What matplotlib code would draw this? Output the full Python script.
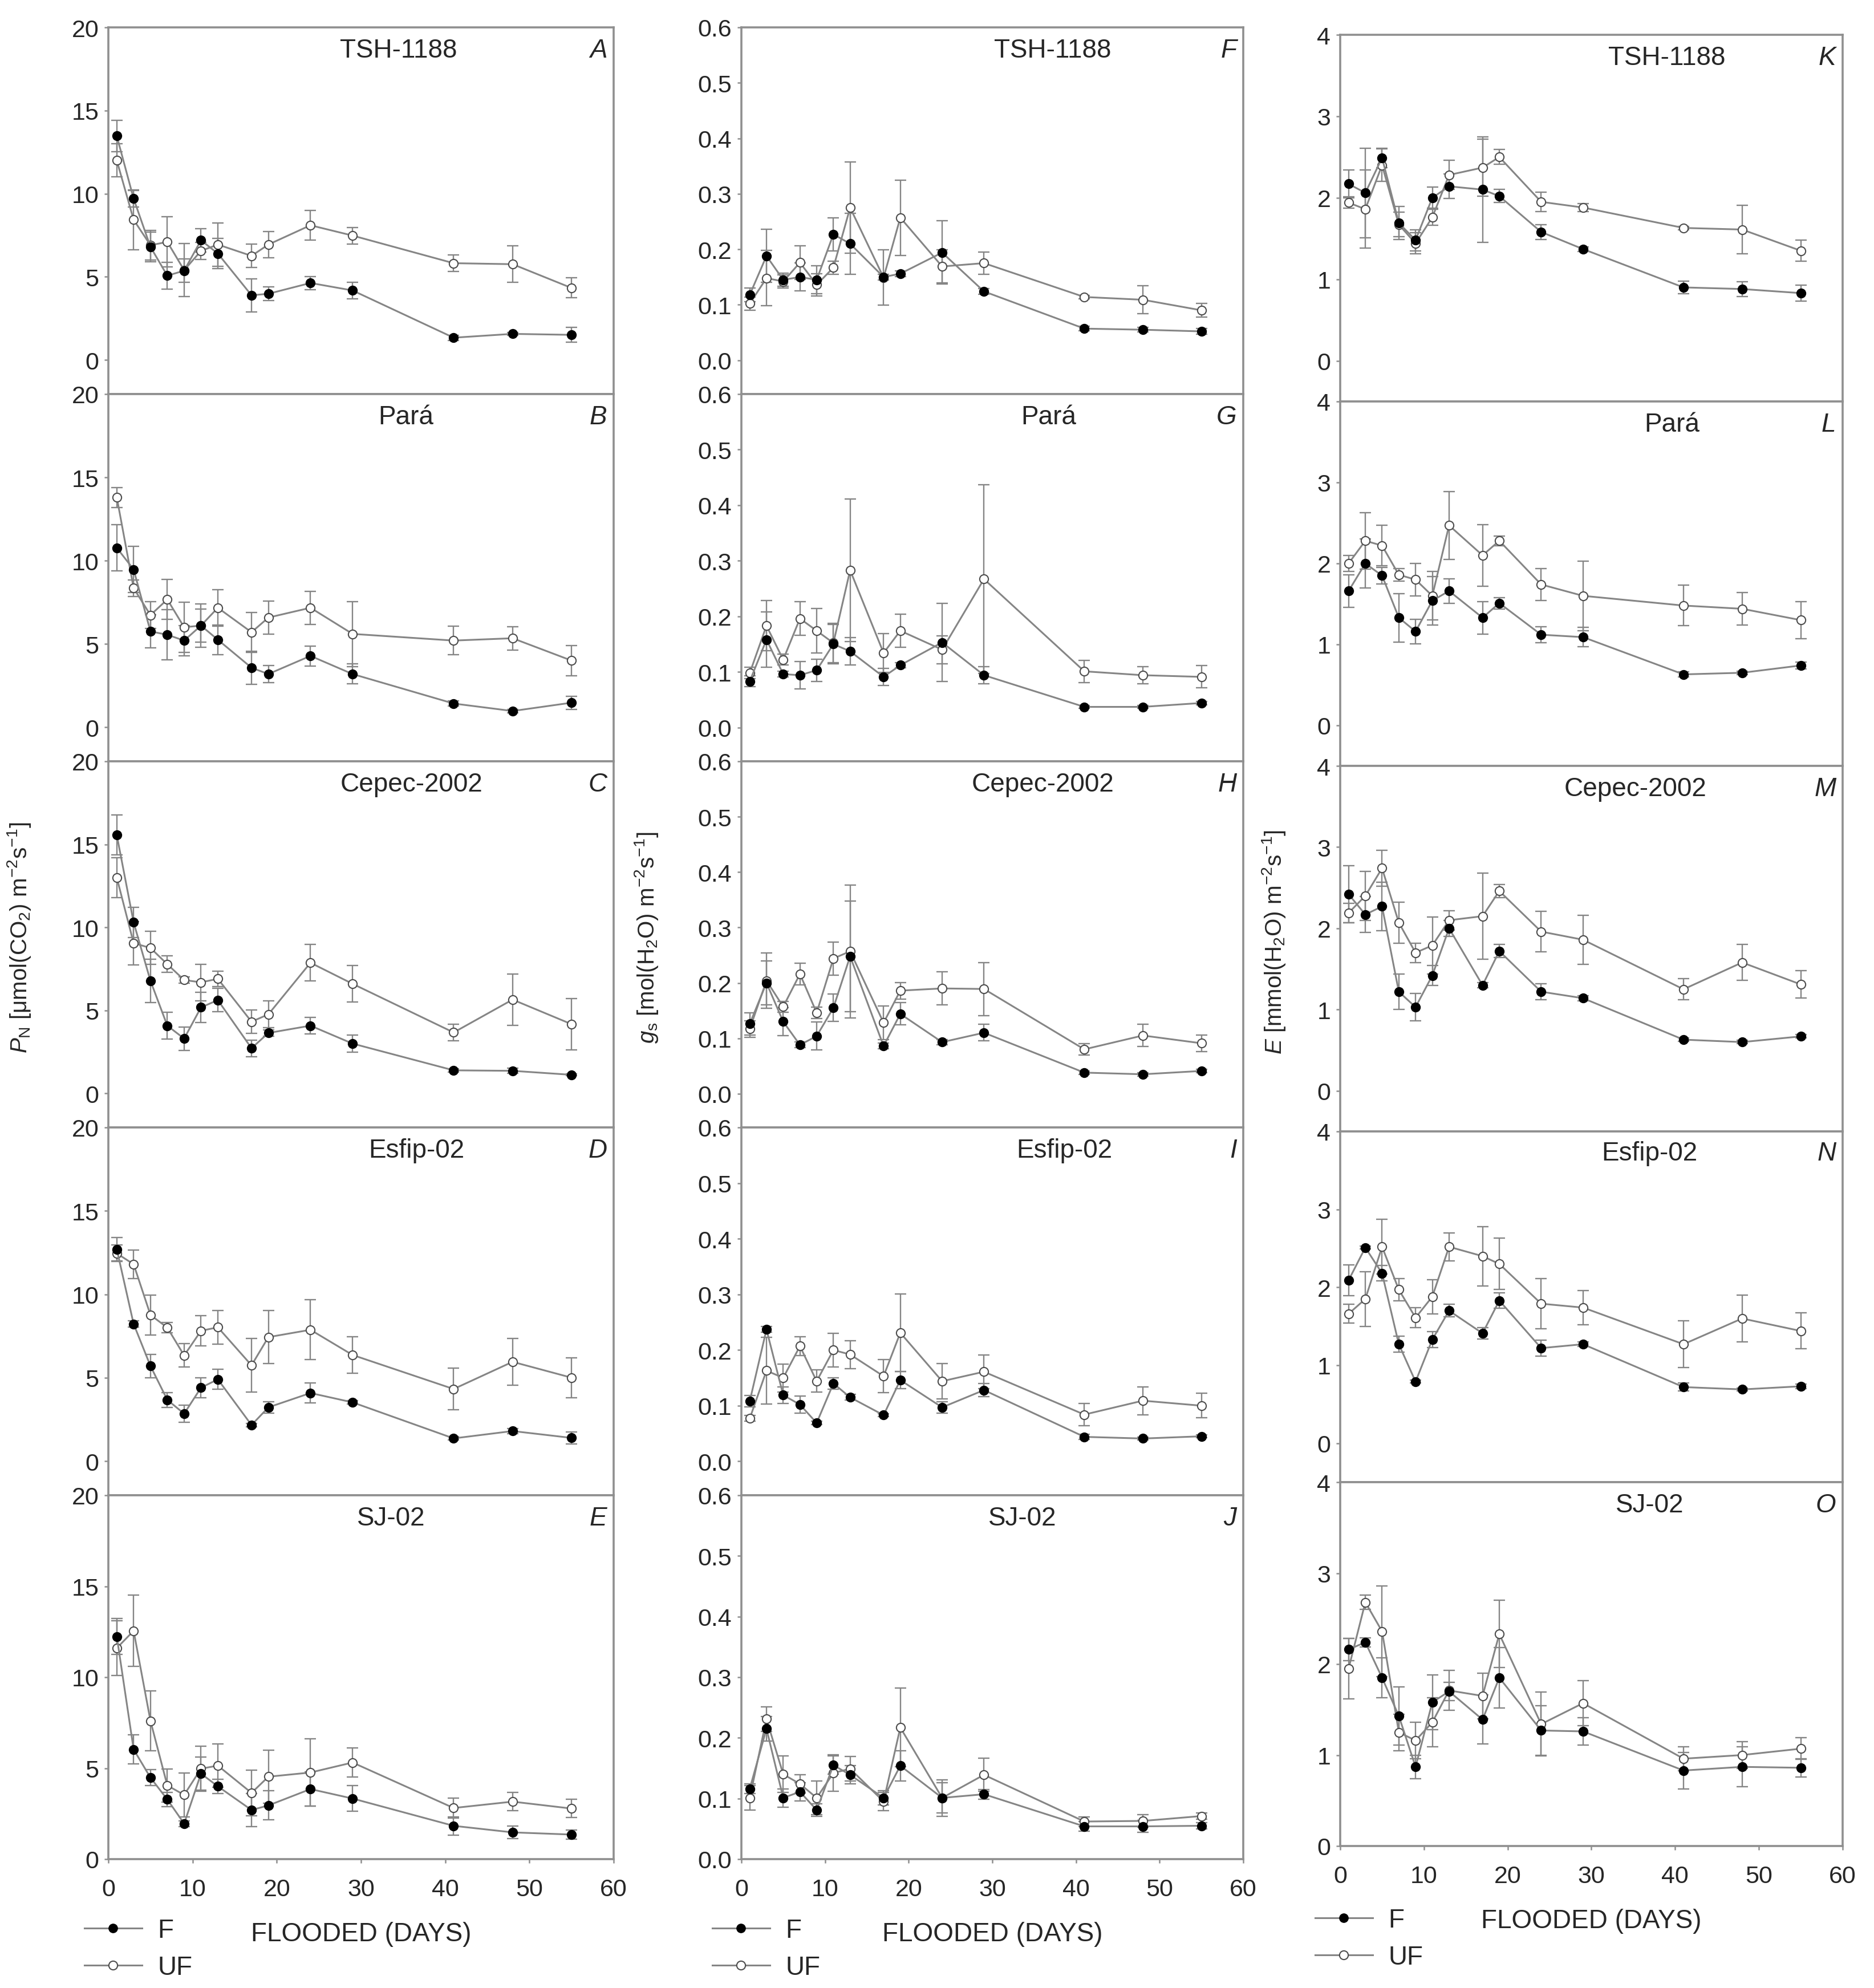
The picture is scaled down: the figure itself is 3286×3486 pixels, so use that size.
"""Gas exchange of five cacao cultivars under flooding (P_N, g_s, E).

Output: out.png
"""
import matplotlib
matplotlib.use("Agg")
import matplotlib.pyplot as plt
from matplotlib.lines import Line2D
from matplotlib.ticker import FormatStrFormatter

plt.rcParams["font.family"] = ["Liberation Sans", "DejaVu Sans"]
plt.rcParams["mathtext.fontset"] = "custom"
plt.rcParams["mathtext.rm"] = "Liberation Sans"
plt.rcParams["mathtext.it"] = "Liberation Sans:italic"

# ── data ─────────────────────────────────────────────────────────────────────
DAYS = [1, 3, 5, 7, 9, 11, 13, 17, 19, 24, 29, 41, 48, 55]
CULTIVARS = ["TSH-1188", "Pará", "Cepec-2002", "Esfip-02", "SJ-02"]

# net photosynthetic rate P_N
PN_TSH_F = [13.47, 9.7, 6.8, 5.07, 5.37, 7.2, 6.4, 3.89, 3.98, 4.63, 4.18, 1.34, 1.57, 1.51]
PN_TSH_F_SE = [0.95, 0.5, 0.9, 0.8, 0.7, 0.7, 0.9, 1.0, 0.4, 0.4, 0.5, 0.15, 0.1, 0.45]
PN_TSH_UF = [12.0, 8.43, 6.9, 7.1, 5.4, 6.56, 6.94, 6.26, 6.94, 8.1, 7.48, 5.82, 5.76, 4.33]
PN_TSH_UF_SE = [1.0, 1.8, 0.9, 1.5, 1.6, 0.5, 1.3, 0.7, 0.8, 0.9, 0.5, 0.5, 1.1, 0.6]

PN_PARA_F = [10.77, 9.47, 5.75, 5.55, 5.2, 6.1, 5.25, 3.57, 3.19, 4.28, 3.19, 1.42, 0.97, 1.47]
PN_PARA_F_SE = [1.4, 1.4, 1.0, 1.5, 0.9, 1.3, 0.9, 1.0, 0.5, 0.6, 0.6, 0.15, 0.1, 0.4]
PN_PARA_UF = [13.8, 8.35, 6.73, 7.67, 6.0, 6.1, 7.17, 5.7, 6.58, 7.17, 5.6, 5.2, 5.34, 4.0]
PN_PARA_UF_SE = [0.6, 0.5, 0.8, 1.2, 1.5, 1.0, 1.1, 1.2, 1.0, 1.0, 1.95, 0.85, 0.7, 0.9]

PN_CEPEC_F = [15.56, 10.3, 6.78, 4.08, 3.3, 5.18, 5.62, 2.72, 3.64, 4.08, 3.0, 1.39, 1.36, 1.12]
PN_CEPEC_F_SE = [1.2, 0.9, 1.3, 0.8, 0.7, 0.9, 0.7, 0.5, 0.2, 0.5, 0.5, 0.1, 0.15, 0.05]
PN_CEPEC_UF = [13.0, 9.05, 8.76, 7.78, 6.83, 6.69, 6.9, 4.32, 4.76, 7.87, 6.6, 3.67, 5.65, 4.17]
PN_CEPEC_UF_SE = [1.2, 1.3, 1.0, 0.5, 0.2, 1.1, 0.45, 0.7, 0.8, 1.1, 1.1, 0.5, 1.55, 1.55]

PN_ESFIP_F = [12.7, 8.22, 5.7, 3.67, 2.84, 4.4, 4.9, 2.16, 3.22, 4.08, 3.52, 1.36, 1.8, 1.39]
PN_ESFIP_F_SE = [0.7, 0.2, 0.7, 0.45, 0.5, 0.6, 0.6, 0.1, 0.35, 0.6, 0.1, 0.1, 0.15, 0.35]
PN_ESFIP_UF = [12.45, 11.8, 8.76, 8.0, 6.33, 7.81, 8.02, 5.74, 7.43, 7.87, 6.36, 4.32, 5.95, 5.0]
PN_ESFIP_UF_SE = [0.5, 0.85, 1.2, 0.3, 0.7, 0.9, 1.0, 1.6, 1.6, 1.8, 1.1, 1.25, 1.4, 1.2]

PN_SJ_F = [12.24, 6.03, 4.48, 3.28, 1.95, 4.7, 4.0, 2.7, 2.95, 3.85, 3.33, 1.83, 1.47, 1.35]
PN_SJ_F_SE = [1.0, 0.8, 0.45, 0.4, 0.15, 0.9, 0.4, 0.9, 0.8, 0.95, 0.7, 0.5, 0.35, 0.25]
PN_SJ_UF = [11.6, 12.55, 7.6, 4.05, 3.53, 4.97, 5.14, 3.64, 4.53, 4.76, 5.31, 2.81, 3.16, 2.78]
PN_SJ_UF_SE = [1.5, 1.95, 1.65, 0.9, 1.2, 1.25, 1.2, 1.25, 1.45, 1.85, 0.8, 0.55, 0.5, 0.5]

# stomatal conductance g_s
GS_TSH_F = [0.118, 0.188, 0.145, 0.15, 0.145, 0.227, 0.21, 0.15, 0.156, 0.194, 0.124, 0.057, 0.055, 0.052]
GS_TSH_F_SE = [0.012, 0.048, 0.012, 0.025, 0.025, 0.03, 0.055, 0.005, 0.005, 0.057, 0.005, 0.004, 0.004, 0.005]
GS_TSH_UF = [0.102, 0.148, 0.142, 0.176, 0.136, 0.167, 0.275, 0.149, 0.257, 0.169, 0.175, 0.114, 0.109, 0.09]
GS_TSH_UF_SE = [0.012, 0.05, 0.012, 0.03, 0.02, 0.012, 0.082, 0.05, 0.068, 0.03, 0.02, 0.003, 0.025, 0.012]

GS_PARA_F = [0.083, 0.158, 0.096, 0.094, 0.103, 0.15, 0.137, 0.091, 0.112, 0.153, 0.094, 0.037, 0.037, 0.044]
GS_PARA_F_SE = [0.01, 0.05, 0.005, 0.025, 0.02, 0.035, 0.025, 0.015, 0.005, 0.07, 0.015, 0.003, 0.003, 0.003]
GS_PARA_UF = [0.098, 0.183, 0.122, 0.196, 0.174, 0.152, 0.283, 0.134, 0.174, 0.14, 0.267, 0.101, 0.094, 0.091]
GS_PARA_UF_SE = [0.01, 0.045, 0.01, 0.03, 0.04, 0.035, 0.128, 0.035, 0.03, 0.025, 0.17, 0.02, 0.015, 0.02]

GS_CEPEC_F = [0.126, 0.2, 0.13, 0.088, 0.104, 0.155, 0.248, 0.086, 0.144, 0.093, 0.11, 0.038, 0.035, 0.041]
GS_CEPEC_F_SE = [0.02, 0.04, 0.025, 0.005, 0.025, 0.025, 0.1, 0.005, 0.02, 0.005, 0.015, 0.003, 0.003, 0.003]
GS_CEPEC_UF = [0.117, 0.204, 0.157, 0.216, 0.146, 0.244, 0.257, 0.128, 0.186, 0.19, 0.189, 0.08, 0.105, 0.091]
GS_CEPEC_UF_SE = [0.015, 0.05, 0.01, 0.02, 0.01, 0.03, 0.12, 0.03, 0.015, 0.03, 0.048, 0.01, 0.02, 0.015]

GS_ESFIP_F = [0.108, 0.237, 0.119, 0.102, 0.069, 0.14, 0.115, 0.083, 0.146, 0.097, 0.128, 0.044, 0.041, 0.045]
GS_ESFIP_F_SE = [0.01, 0.005, 0.015, 0.015, 0.003, 0.01, 0.005, 0.003, 0.015, 0.01, 0.012, 0.005, 0.003, 0.003]
GS_ESFIP_UF = [0.077, 0.163, 0.15, 0.207, 0.144, 0.2, 0.192, 0.153, 0.231, 0.144, 0.161, 0.084, 0.109, 0.1]
GS_ESFIP_UF_SE = [0.005, 0.06, 0.025, 0.017, 0.02, 0.03, 0.025, 0.03, 0.07, 0.032, 0.03, 0.02, 0.025, 0.022]

GS_SJ_F = [0.116, 0.215, 0.101, 0.111, 0.081, 0.155, 0.139, 0.101, 0.154, 0.101, 0.107, 0.054, 0.054, 0.055]
GS_SJ_F_SE = [0.008, 0.02, 0.015, 0.015, 0.01, 0.015, 0.015, 0.012, 0.025, 0.025, 0.008, 0.008, 0.01, 0.005]
GS_SJ_UF = [0.101, 0.231, 0.14, 0.124, 0.101, 0.142, 0.149, 0.095, 0.217, 0.101, 0.139, 0.062, 0.063, 0.071]
GS_SJ_UF_SE = [0.02, 0.02, 0.03, 0.015, 0.028, 0.03, 0.02, 0.015, 0.065, 0.03, 0.027, 0.008, 0.01, 0.005]

# transpiration rate E
E_TSH_F = [2.17, 2.06, 2.49, 1.69, 1.48, 2.0, 2.14, 2.1, 2.02, 1.58, 1.37, 0.9, 0.88, 0.83]
E_TSH_F_SE = [0.17, 0.55, 0.12, 0.2, 0.13, 0.13, 0.15, 0.65, 0.08, 0.09, 0.03, 0.08, 0.09, 0.1]
E_TSH_UF = [1.94, 1.86, 2.4, 1.67, 1.44, 1.76, 2.28, 2.37, 2.5, 1.95, 1.88, 1.63, 1.61, 1.35]
E_TSH_UF_SE = [0.07, 0.48, 0.2, 0.15, 0.13, 0.1, 0.18, 0.35, 0.09, 0.12, 0.05, 0.02, 0.3, 0.13]

E_PARA_F = [1.66, 2.0, 1.85, 1.33, 1.16, 1.54, 1.66, 1.33, 1.51, 1.12, 1.09, 0.63, 0.65, 0.74]
E_PARA_F_SE = [0.2, 0.3, 0.1, 0.3, 0.15, 0.3, 0.15, 0.2, 0.07, 0.1, 0.12, 0.03, 0.02, 0.04]
E_PARA_UF = [2.0, 2.28, 2.22, 1.86, 1.8, 1.6, 2.47, 2.1, 2.28, 1.74, 1.6, 1.48, 1.44, 1.3]
E_PARA_UF_SE = [0.1, 0.35, 0.25, 0.08, 0.2, 0.3, 0.42, 0.38, 0.06, 0.2, 0.43, 0.25, 0.2, 0.23]

E_CEPEC_F = [2.42, 2.17, 2.27, 1.22, 1.03, 1.42, 2.0, 1.3, 1.72, 1.22, 1.14, 0.63, 0.6, 0.67]
E_CEPEC_F_SE = [0.35, 0.22, 0.3, 0.22, 0.17, 0.12, 0.1, 0.03, 0.08, 0.1, 0.03, 0.02, 0.02, 0.02]
E_CEPEC_UF = [2.19, 2.4, 2.74, 2.07, 1.7, 1.79, 2.1, 2.15, 2.46, 1.96, 1.86, 1.25, 1.58, 1.31]
E_CEPEC_UF_SE = [0.12, 0.3, 0.22, 0.25, 0.12, 0.35, 0.12, 0.53, 0.08, 0.25, 0.3, 0.13, 0.22, 0.17]

E_ESFIP_F = [2.09, 2.51, 2.18, 1.27, 0.79, 1.33, 1.7, 1.41, 1.83, 1.22, 1.27, 0.72, 0.69, 0.73]
E_ESFIP_F_SE = [0.2, 0.02, 0.1, 0.1, 0.02, 0.1, 0.08, 0.07, 0.1, 0.1, 0.03, 0.05, 0.02, 0.03]
E_ESFIP_UF = [1.66, 1.85, 2.52, 1.97, 1.61, 1.88, 2.52, 2.4, 2.3, 1.79, 1.74, 1.27, 1.6, 1.44]
E_ESFIP_UF_SE = [0.12, 0.35, 0.35, 0.14, 0.13, 0.22, 0.18, 0.38, 0.33, 0.32, 0.22, 0.3, 0.3, 0.23]

E_SJ_F = [2.16, 2.24, 1.85, 1.43, 0.87, 1.58, 1.7, 1.39, 1.85, 1.27, 1.26, 0.83, 0.87, 0.86]
E_SJ_F_SE = [0.12, 0.05, 0.22, 0.32, 0.13, 0.3, 0.1, 0.27, 0.33, 0.27, 0.15, 0.2, 0.22, 0.1]
E_SJ_UF = [1.95, 2.68, 2.36, 1.25, 1.16, 1.36, 1.71, 1.65, 2.33, 1.34, 1.57, 0.96, 1.0, 1.07]
E_SJ_UF_SE = [0.33, 0.08, 0.5, 0.2, 0.2, 0.27, 0.22, 0.25, 0.37, 0.35, 0.25, 0.13, 0.15, 0.12]

# ── layout (pixel positions of the original figure) ──────────────────────────
W, H = 3286, 3487
COL_X = [(190, 1076), (1300, 2180), (2350, 3231)]
ROW_Y = [
    [49, 692, 1336, 1978, 2623, 3261],
    [49, 692, 1336, 1978, 2623, 3261],
    [62, 705, 1344, 1985, 2600, 3238],
]
TITLE_X = [
    [0.574, 0.589, 0.600, 0.610, 0.560],
    [0.620, 0.612, 0.600, 0.644, 0.560],
    [0.650, 0.660, 0.587, 0.615, 0.616],
]
LETTERS = ["ABCDE", "FGHIJ", "KLMNO"]
LEGEND_XY = [(148, 3364), (1249, 3364), (2306, 3346)]

LINE_C = "#858585"
SPINE_C = "#8f8f8f"
TEXT_C = "#262626"
FS_TICK = 31
FS_TITLE = 33
FS_LABEL = 29
FS_XLAB = 33

COLUMNS = [
    dict(
        data=[(PN_TSH_F, PN_TSH_F_SE, PN_TSH_UF, PN_TSH_UF_SE),
              (PN_PARA_F, PN_PARA_F_SE, PN_PARA_UF, PN_PARA_UF_SE),
              (PN_CEPEC_F, PN_CEPEC_F_SE, PN_CEPEC_UF, PN_CEPEC_UF_SE),
              (PN_ESFIP_F, PN_ESFIP_F_SE, PN_ESFIP_UF, PN_ESFIP_UF_SE),
              (PN_SJ_F, PN_SJ_F_SE, PN_SJ_UF, PN_SJ_UF_SE)],
        ymax=20, ylow=-2.05, yticks=[0, 5, 10, 15, 20], fmt="%d",
        ylabel=r"$P_{\rm N}$ [μmol(CO$_2$) m$^{-2}$s$^{-1}$]", ylabel_x=-0.150,
    ),
    dict(
        data=[(GS_TSH_F, GS_TSH_F_SE, GS_TSH_UF, GS_TSH_UF_SE),
              (GS_PARA_F, GS_PARA_F_SE, GS_PARA_UF, GS_PARA_UF_SE),
              (GS_CEPEC_F, GS_CEPEC_F_SE, GS_CEPEC_UF, GS_CEPEC_UF_SE),
              (GS_ESFIP_F, GS_ESFIP_F_SE, GS_ESFIP_UF, GS_ESFIP_UF_SE),
              (GS_SJ_F, GS_SJ_F_SE, GS_SJ_UF, GS_SJ_UF_SE)],
        ymax=0.6, ylow=-0.061, yticks=[0, 0.1, 0.2, 0.3, 0.4, 0.5, 0.6], fmt="%.1f",
        ylabel=r"$g_{\rm s}$ [mol(H$_2$O) m$^{-2}$s$^{-1}$]", ylabel_x=-0.162,
    ),
    dict(
        data=[(E_TSH_F, E_TSH_F_SE, E_TSH_UF, E_TSH_UF_SE),
              (E_PARA_F, E_PARA_F_SE, E_PARA_UF, E_PARA_UF_SE),
              (E_CEPEC_F, E_CEPEC_F_SE, E_CEPEC_UF, E_CEPEC_UF_SE),
              (E_ESFIP_F, E_ESFIP_F_SE, E_ESFIP_UF, E_ESFIP_UF_SE),
              (E_SJ_F, E_SJ_F_SE, E_SJ_UF, E_SJ_UF_SE)],
        ymax=4, ylow=-0.5, yticks=[0, 1, 2, 3, 4], fmt="%d",
        ylabel=r"$E$ [mmol(H$_2$O) m$^{-2}$s$^{-1}$]", ylabel_x=-0.105,
    ),
]


def draw_series(ax, y, se, filled):
    ax.errorbar(DAYS, y, yerr=se, fmt="none", ecolor=LINE_C, elinewidth=1.7,
                capsize=7, capthick=1.7, zorder=2)
    ax.plot(DAYS, y, color=LINE_C, lw=2.2, zorder=3, marker="o", ms=11,
            mfc="black" if filled else "white",
            mec="black" if filled else "#4d4d4d", mew=1.5)


def main() -> None:
    fig = plt.figure(figsize=(W / 100, H / 100), dpi=100)

    for c, col in enumerate(COLUMNS):
        x0, x1 = COL_X[c]
        for r in range(5):
            y_top, y_bot = ROW_Y[c][r], ROW_Y[c][r + 1]
            ax = fig.add_axes([x0 / W, 1 - y_bot / H, (x1 - x0) / W, (y_bot - y_top) / H])
            f, f_se, uf, uf_se = col["data"][r]
            draw_series(ax, uf, uf_se, filled=False)
            draw_series(ax, f, f_se, filled=True)

            last = r == 4
            ax.set_xlim(0, 60)
            ax.set_ylim(0 if last else col["ylow"], col["ymax"])
            ax.set_yticks(col["yticks"])
            ax.yaxis.set_major_formatter(FormatStrFormatter(col["fmt"]))
            ax.set_xticks(range(0, 61, 10))
            for s in ax.spines.values():
                s.set_color(SPINE_C)
                s.set_linewidth(2.6)
            ax.tick_params(axis="y", direction="out", length=5, width=1.8,
                           color=SPINE_C, labelsize=FS_TICK, labelcolor=TEXT_C, pad=7)
            ax.tick_params(axis="x", direction="out", length=5, width=1.8,
                           color=SPINE_C, labelsize=FS_TICK, labelcolor=TEXT_C, pad=19,
                           labelbottom=last, bottom=last)

            ax.text(TITLE_X[c][r], 0.938, CULTIVARS[r], transform=ax.transAxes,
                    ha="center", va="center", fontsize=FS_TITLE, color=TEXT_C)
            ax.text(0.987, 0.938, LETTERS[c][r], transform=ax.transAxes,
                    ha="right", va="center", fontsize=FS_TITLE, color=TEXT_C, style="italic")

            if r == 2:
                ax.set_ylabel(col["ylabel"], fontsize=FS_LABEL, color=TEXT_C)
                ax.yaxis.set_label_coords(col["ylabel_x"], 0.52)
            if last:
                ax.set_xlabel("FLOODED (DAYS)", fontsize=FS_XLAB, color=TEXT_C, va="center")
                ax.xaxis.set_label_coords(0.5, -0.205)

        handles = [
            Line2D([], [], color=LINE_C, lw=2.2, marker="o", ms=11, mfc="black", mec="black"),
            Line2D([], [], color=LINE_C, lw=2.2, marker="o", ms=11, mfc="white",
                   mec="#4d4d4d", mew=1.5),
        ]
        lx, ly = LEGEND_XY[c]
        leg = fig.legend(handles, ["F", "UF"], loc="upper left",
                         bbox_to_anchor=(lx / W, 1 - ly / H), frameon=False,
                         fontsize=FS_XLAB, borderpad=0, borderaxespad=0,
                         handlelength=2.2, handletextpad=0.6, labelspacing=0.45)
        for t in leg.get_texts():
            t.set_color(TEXT_C)

    fig.savefig("out.png", dpi=100)
    plt.close(fig)


if __name__ == "__main__":
    main()
